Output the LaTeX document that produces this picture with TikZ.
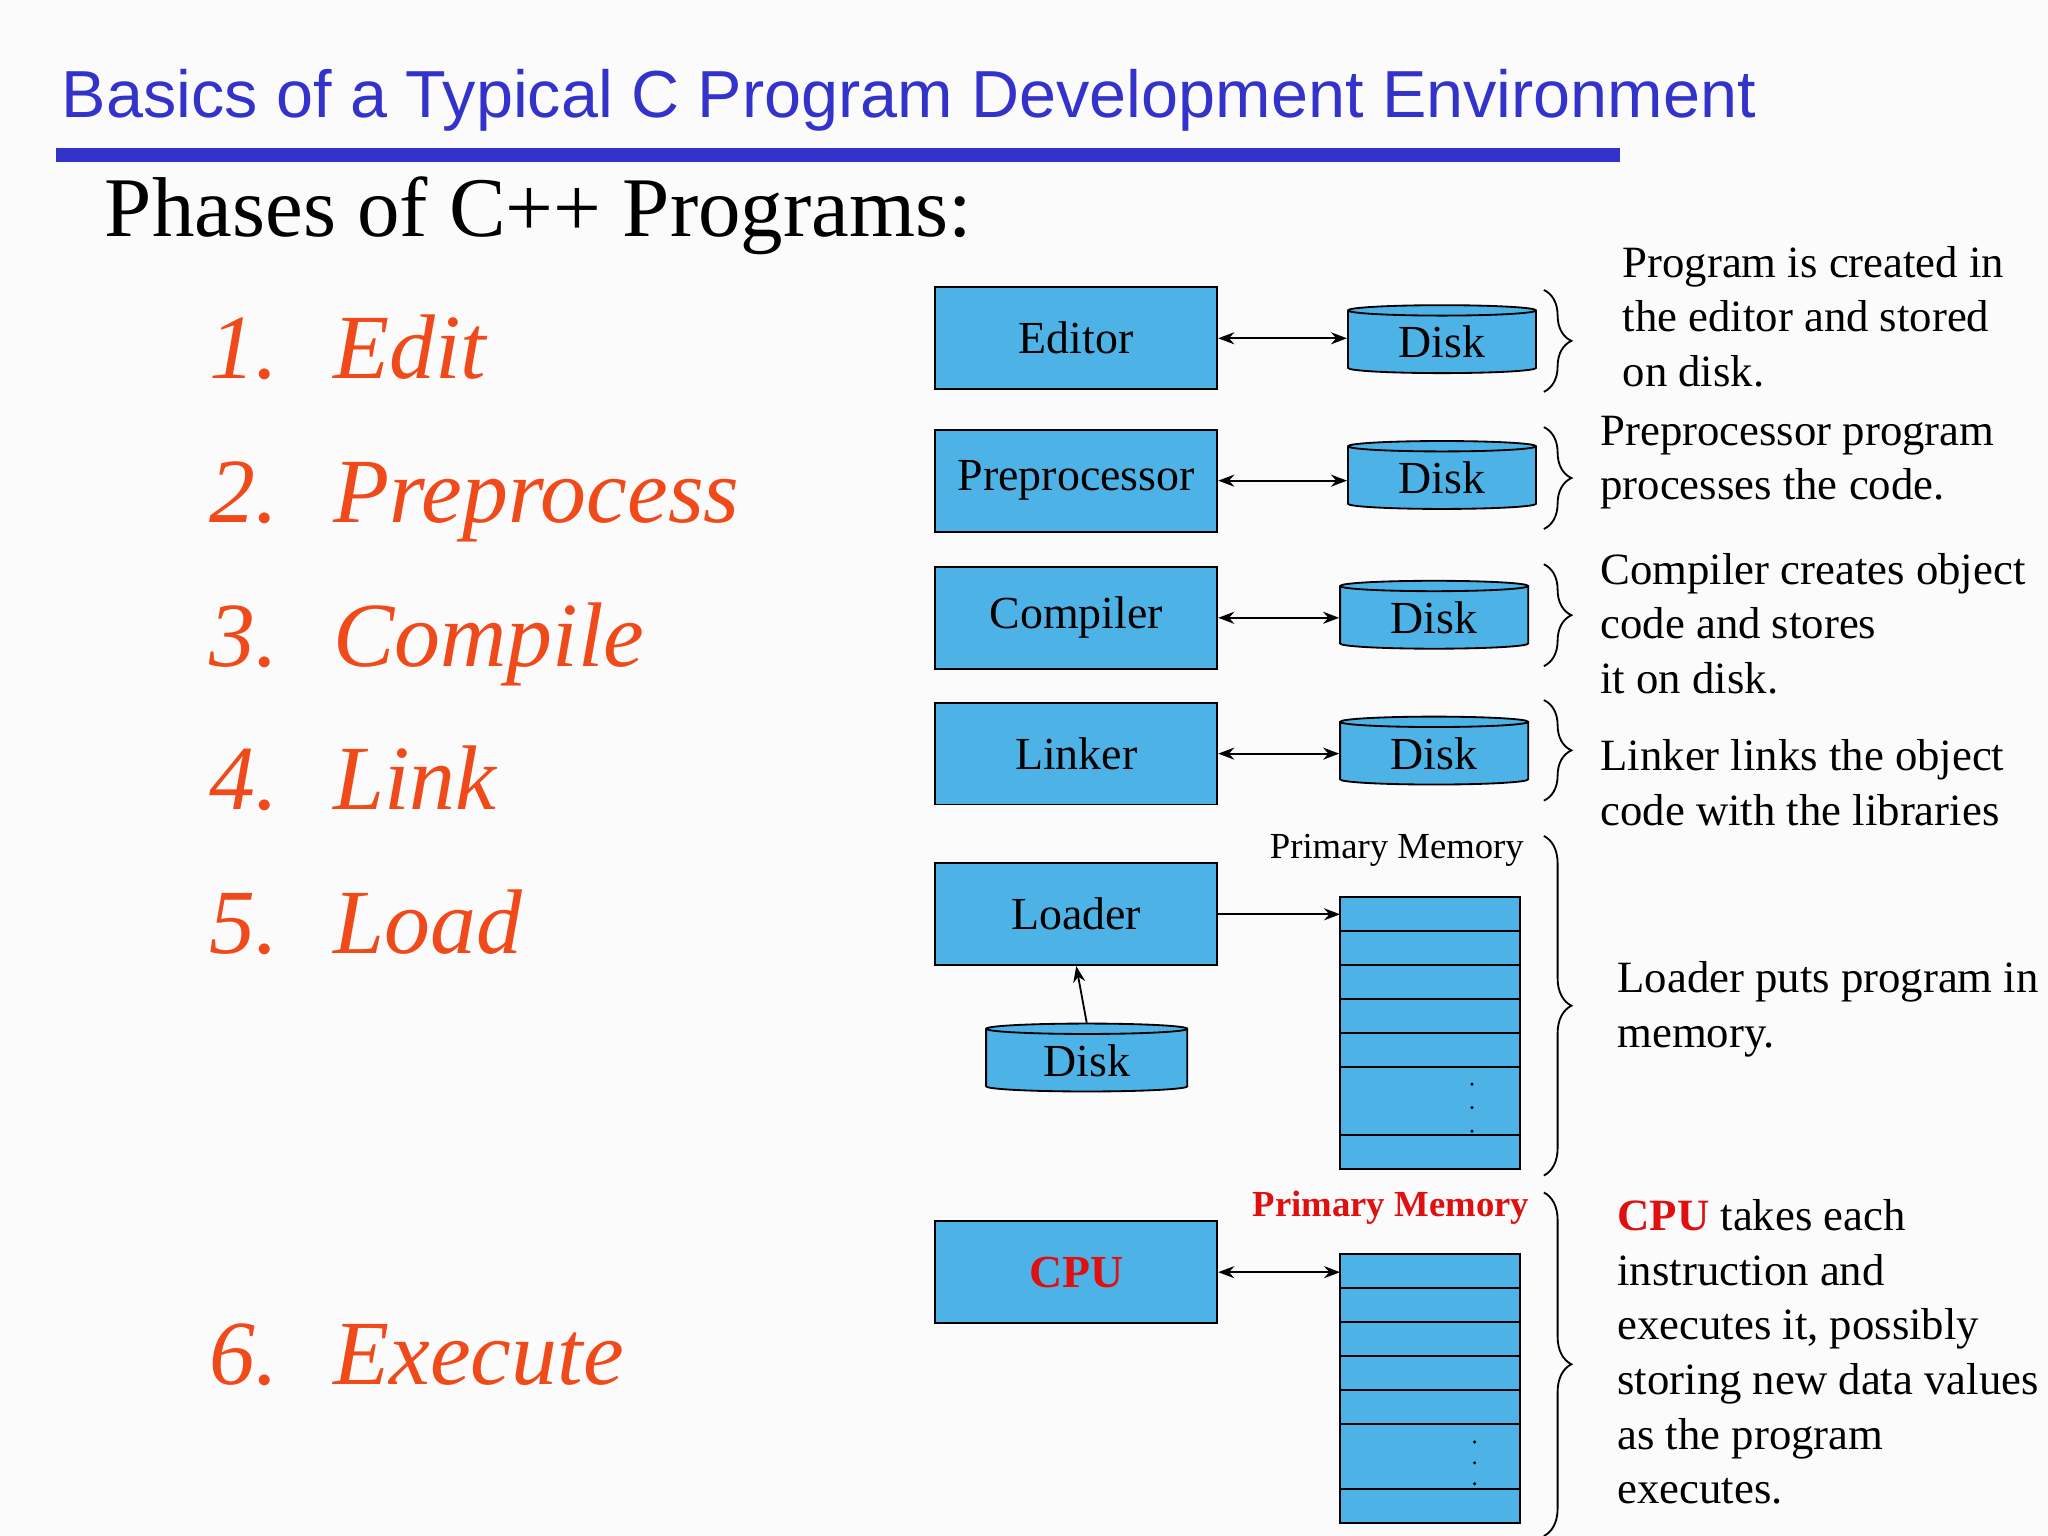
\documentclass[tikz,border=0pt]{standalone}
\usepackage{fontspec}
\setmainfont{Liberation Serif}
\newfontfamily\titlefont{Liberation Sans}
\usetikzlibrary{shapes.geometric,decorations.pathreplacing,arrows.meta}
\definecolor{boxblue}{HTML}{4DB3E6}
\definecolor{titleblue}{HTML}{3333CC}
\definecolor{listred}{HTML}{F04A1A}
\definecolor{memred}{HTML}{E01010}
\begin{document}
\begin{tikzpicture}[x=0.02cm,y=-0.02cm,
  phase/.style={draw=black,thick,fill=boxblue,minimum width=216*0.02cm,minimum height=78*0.02cm,inner sep=0pt,font=\fontsize{20}{24}\selectfont},
  disk/.style={cylinder,shape border rotate=90,draw=black,thick,fill=boxblue,aspect=0.12,minimum width=144*0.02cm,minimum height=52*0.02cm,inner sep=0pt,font=\fontsize{20}{24}\selectfont},
  link/.style={thick,{Stealth[length=7pt]}-{Stealth[length=7pt]}},
  onearrow/.style={thick,-{Stealth[length=7pt]}},
  brc/.style={thick,decorate,decoration={brace,amplitude=12pt}},
  desc/.style={anchor=north west,align=left,inner sep=0pt,font=\fontsize{19.5}{23.8}\selectfont},
  item/.style={anchor=base west,inner sep=0pt,text=listred,font=\fontsize{40}{44}\selectfont\itshape},
  mem/.style={draw=black,thick,fill=boxblue}]
\useasboundingbox (0,0) rectangle (1568,1176);
\fill[white!97!gray] (0,0) rectangle (1568,1176);
\node[anchor=base west,inner sep=0pt,text=titleblue,font=\titlefont\fontsize{29}{32}\selectfont] (title) at (47,90) {Basics of a Typical C Program Development Environment};
\fill[titleblue] (43,113) rectangle (1240,124);
\node[anchor=base west,inner sep=0pt,font=\fontsize{37}{40}\selectfont] (phases) at (80,181) {Phases of C++ Programs:};
\node[item] (i1) at (160,290) {1.\hspace{0.6em}Edit};
\node[item] (i2) at (160,400) {2.\hspace{0.6em}Preprocess};
\node[item] (i3) at (160,510) {3.\hspace{0.6em}Compile};
\node[item] (i4) at (160,620) {4.\hspace{0.6em}Link};
\node[item] (i5) at (160,730) {5.\hspace{0.6em}Load};
\node[item] (i6) at (160,1060) {6.\hspace{0.6em}Execute};
% boxes
\node[phase] (ed) at (824,259) {Editor};
\node[phase] (pp) at (824,368) {Preprocessor};
\node[phase] (co) at (824,473) {Compiler};
\node[phase] (li) at (824,577) {Linker};
\node[phase] (lo) at (824,700) {Loader};
\node[phase,text=memred,font=\fontsize{20}{24}\selectfont\bfseries] (cpu) at (824,974) {CPU};
% disks
\node[disk] (d1) at (1104,262) {Disk};
\node[disk] (d2) at (1104,366) {Disk};
\node[disk] (d3) at (1098,473) {Disk};
\node[disk] (d4) at (1098,577) {Disk};
\node[disk,minimum width=154*0.02cm] (d5) at (832,812) {Disk};
\draw[link] (ed.east) -- (d1.west|-ed.east);
\draw[link] (pp.east) -- (d2.west|-pp.east);
\draw[link] (co.east) -- (d3.west|-co.east);
\draw[link] (li.east) -- (d4.west|-li.east);
% memory 1
\coordinate (m1) at (1026,687);
\coordinate (m1b) at (1164,895);
\draw[mem] (m1) rectangle (m1b);
\foreach \y in {713,739,765,791,817,869} \draw[thick] (1026,\y) -- (1164,\y);
\foreach \y in {830,848,866} \fill (1127,\y) circle (1.3);
\draw[onearrow] (lo.east|-0,700) -- (m1|-0,700);
\draw[onearrow] (d5.north) -- (lo.south);
\node[anchor=base east,inner sep=0pt,font=\fontsize{16}{19}\selectfont] (pm1) at (1167,657) {Primary Memory};
% memory 2
\coordinate (m2) at (1026,960);
\coordinate (m2b) at (1164,1166);
\draw[mem] (m2) rectangle (m2b);
\foreach \y in {986,1012,1038,1064,1090,1140} \draw[thick] (1026,\y) -- (1164,\y);
\foreach \y in {1104,1120,1136} \fill (1129,\y) circle (1.3);
\draw[link] (cpu.east|-0,974) -- (m2|-0,974);
\node[anchor=base east,inner sep=0pt,text=memred,font=\fontsize{16}{19}\selectfont\bfseries] (pm2) at (1171,931) {Primary Memory};
% braces
\draw[brc] (1182,222) -- (1182,300);
\draw[brc] (1182,327) -- (1182,405);
\draw[brc] (1182,432) -- (1182,510);
\draw[brc] (1182,536) -- (1182,613);
\draw[brc] (1182,640) -- (1182,900);
\draw[brc] (1182,913) -- (1182,1176);
% descriptions
\node[desc] (t1) at (1242,188) {Program is created in\\the editor and stored\\on disk.};
\node[desc] (t2) at (1225,318) {Preprocessor program\\processes the code.};
\node[desc] (t3) at (1225,423) {Compiler creates object\\code and stores\\it on disk.};
\node[desc] (t4) at (1225,566) {Linker links the object\\code with the libraries};
\node[desc] (t5) at (1238,736) {Loader puts program in\\memory.};
\node[desc] (t6) at (1238,918) {\textcolor{memred}{\bfseries CPU} takes each\\instruction and\\executes it, possibly\\storing new data values\\as the program\\executes.};
\end{tikzpicture}
\end{document}
